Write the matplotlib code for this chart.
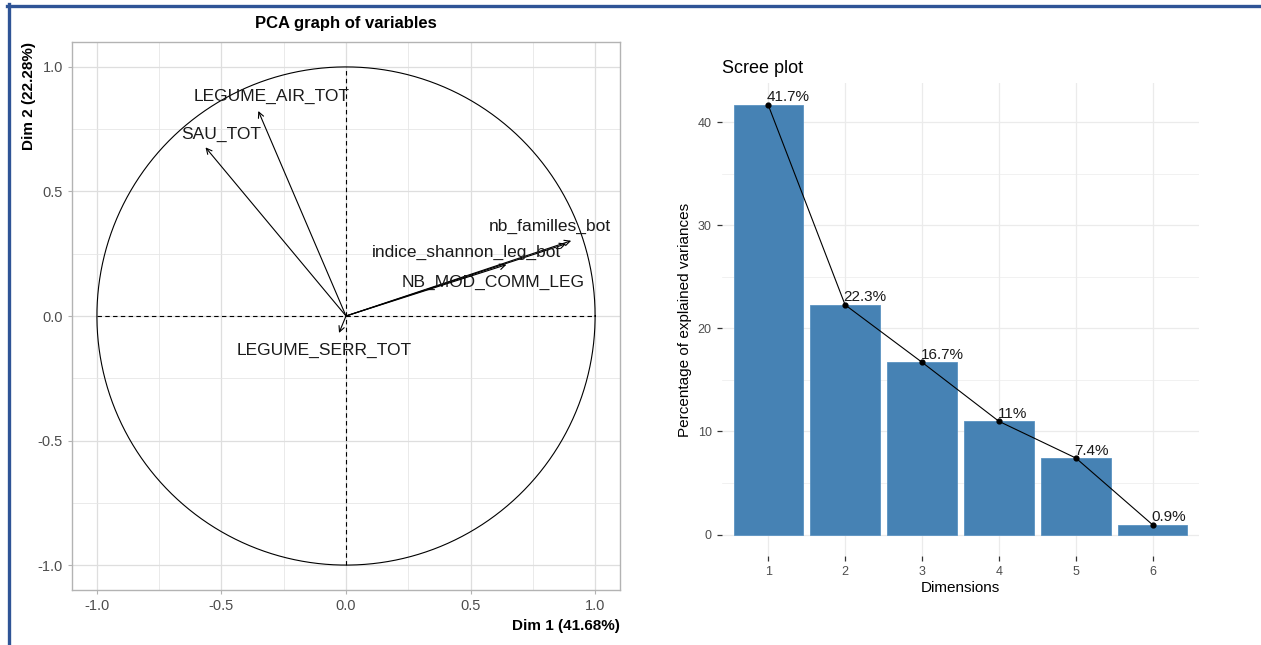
import numpy as np
import matplotlib
matplotlib.use('Agg')
import matplotlib.pyplot as plt
from matplotlib.lines import Line2D

plt.rcParams['font.family'] = ['Liberation Sans', 'DejaVu Sans']

# variables of the correlation circle (Dim 1, Dim 2)
var_names = ['LEGUME_AIR_TOT', 'SAU_TOT', 'nb_familles_bot', 'NB_MOD_COMM_LEG',
             'indice_shannon_leg_bot', 'LEGUME_SERR_TOT']
dim1 = [-0.352, -0.564, 0.904, 0.884, 0.644, -0.028]
dim2 = [0.823, 0.677, 0.302, 0.290, 0.206, -0.068]
# where the (repelled) labels ended up
lab_x = [-0.30, -0.50, 0.82, 0.592, 0.484, -0.088]
lab_y = [0.883, 0.730, 0.359, 0.133, 0.254, -0.137]

# scree plot
dims = [1, 2, 3, 4, 5, 6]
explained = [41.68, 22.28, 16.71, 10.98, 7.42, 0.93]

W, H = 1261, 645
fig = plt.figure(figsize=(W / 100, H / 100), dpi=100)
fig.patch.set_facecolor('white')

def px_axes(x0, y0, x1, y1):
    return fig.add_axes([x0 / W, 1 - y1 / H, (x1 - x0) / W, (y1 - y0) / H])

# ---------------- PCA graph of variables ----------------
ax = px_axes(72, 42, 620, 590)
ax.set_xlim(-1.1, 1.1)
ax.set_ylim(-1.1, 1.1)
ax.set_xticks([-1, -0.5, 0, 0.5, 1])
ax.set_yticks([-1, -0.5, 0, 0.5, 1])
ax.set_xticklabels(['-1.0', '-0.5', '0.0', '0.5', '1.0'])
ax.set_yticklabels(['-1.0', '-0.5', '0.0', '0.5', '1.0'])
ax.set_xticks(np.arange(-1, 1.01, 0.25), minor=True)
ax.set_yticks(np.arange(-1, 1.01, 0.25), minor=True)
ax.grid(which='major', color='#DEDEDE', lw=0.9)
ax.grid(which='minor', color='#E6E6E6', lw=0.6)
ax.set_axisbelow(True)
for s in ax.spines.values():
    s.set_color('#B3B3B3')
    s.set_linewidth(1.0)
ax.tick_params(which='major', length=3, color='#B3B3B3', labelcolor='#4D4D4D', labelsize=10.5)
ax.tick_params(which='minor', length=0)

t = np.linspace(0, 2 * np.pi, 400)
ax.plot(np.cos(t), np.sin(t), color='black', lw=0.8)
ax.plot([-1, 1], [0, 0], color='black', lw=0.8, ls=(0, (4, 3)))
ax.plot([0, 0], [-1, 1], color='black', lw=0.8, ls=(0, (4, 3)))

for i, name in enumerate(var_names):
    ax.annotate('', xy=(dim1[i], dim2[i]), xytext=(0, 0),
                arrowprops=dict(arrowstyle='->', color='black', lw=0.8,
                                shrinkA=0, shrinkB=0, mutation_scale=10))
    ax.text(lab_x[i], lab_y[i], name, ha='center', va='center', fontsize=12.5, color='#1A1A1A')

ax.set_title('PCA graph of variables', fontsize=12, fontweight='bold', pad=10)
ax.set_xlabel('Dim 1 (41.68%)', fontsize=11, fontweight='bold', loc='right', labelpad=4)
ax.set_ylabel('Dim 2 (22.28%)', fontsize=11, fontweight='bold', loc='top', labelpad=1)

# ---------------- Scree plot ----------------
bx = px_axes(722, 83, 1199, 556)
bx.bar(dims, explained, width=0.9, color='#4682B4', edgecolor='#5B93C2', lw=0.6, zorder=2)
bx.plot(dims, explained, color='black', lw=0.8, zorder=3)
bx.scatter(dims, explained, color='black', s=12, zorder=4)
for d, v in zip(dims, explained):
    bx.annotate('{:g}%'.format(round(v, 1)), xy=(d, v), xytext=(-1, 2.5),
                textcoords='offset points', ha='left', va='baseline',
                fontsize=11, color='#1A1A1A', zorder=5)

bx.set_xlim(0.4, 6.6)
bx.set_ylim(-2.08, 43.8)
bx.set_xticks(dims)
bx.set_yticks([0, 10, 20, 30, 40])
bx.set_yticks([5, 15, 25, 35], minor=True)
bx.grid(which='major', color='#EBEBEB', lw=0.9)
bx.grid(which='minor', axis='y', color='#EBEBEB', lw=0.5)
bx.set_axisbelow(True)
for s in bx.spines.values():
    s.set_visible(False)
bx.tick_params(which='major', length=3.5, width=0.9, color='#333333',
               labelcolor='#4D4D4D', labelsize=9, pad=4)
bx.tick_params(which='minor', length=0)
bx.set_title('Scree plot', fontsize=13, loc='left', pad=7)
bx.set_xlabel('Dimensions', fontsize=11, labelpad=2)
bx.set_ylabel('Percentage of explained variances', fontsize=11, labelpad=4)

# blue frame of the screenshot
fig.add_artist(Line2D([8.5 / W, 8.5 / W], [0, 1 - 4 / H], transform=fig.transFigure,
                      color='#2F5496', lw=2.4))
fig.add_artist(Line2D([7 / W, 1], [1 - 5.5 / H, 1 - 5.5 / H], transform=fig.transFigure,
                      color='#2F5496', lw=2.4))

fig.savefig('out.png', dpi=100)
